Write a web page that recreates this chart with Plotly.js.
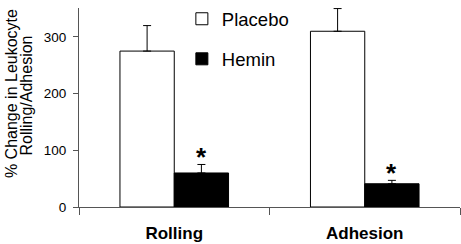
<!DOCTYPE html>
<html>
<head>
<meta charset="utf-8">
<script src="https://cdn.plot.ly/plotly-3.0.1.min.js"></script>
<style>html,body{margin:0;padding:0;background:#fff;}#chart{width:461px;height:244px;}</style>
</head>
<body>
<div id="chart"></div>
<script>
const categories = ['Rolling', 'Adhesion'];
const placebo = [275, 310];
const placeboErr = [45, 40];
const hemin = [60, 41];
const heminErr = [15, 6];
const significance = ['*', '*'];
const yTickVals = [0, 100, 200, 300];
const yTitleLines = ['% Change in Leukocyte', 'Rolling/Adhesion'];

const bargap = 0.43;
const font = '"Liberation Sans", Arial, sans-serif';

const traces = [
  {
    type: 'bar', name: 'Placebo', x: categories, y: placebo,
    marker: {color: '#ffffff', line: {color: '#000000', width: 1}},
    error_y: {type: 'data', symmetric: false, array: placeboErr, arrayminus: placebo.map(() => 0),
              color: '#000000', thickness: 1, width: 4},
    legendgroup: 'p'
  },
  {
    type: 'bar', name: 'Hemin', x: categories, y: hemin,
    marker: {color: '#000000', line: {color: '#000000', width: 1}},
    error_y: {type: 'data', symmetric: false, array: heminErr, arrayminus: hemin.map(() => 0),
              color: '#000000', thickness: 1, width: 4},
    legendgroup: 'h'
  }
];

const barOffset = (1 - bargap) / 4;
const annotations = categories.map((c, i) => ({
  xref: 'x', yref: 'y', x: i + barOffset, y: hemin[i] + heminErr[i],
  text: significance[i], showarrow: false, yanchor: 'bottom', yshift: -10,
  font: {family: font, size: 26, color: '#000', weight: 'bold'}
}));
const titleX = [-0.1785, -0.1375];
const titleY = [0.5725, 0.558];
yTitleLines.forEach((t, i) => annotations.push({
  xref: 'paper', yref: 'paper', x: titleX[i], y: titleY[i],
  text: t, textangle: -90,
  showarrow: false, xanchor: 'center', yanchor: 'middle',
  font: {family: font, size: 16, color: '#000'}
}));

const layout = {
  width: 461, height: 244,
  margin: {l: 79, r: 1, t: 0, b: 37, pad: 0},
  paper_bgcolor: '#fff', plot_bgcolor: '#fff',
  barmode: 'group', bargap: bargap, bargroupgap: 0,
  font: {family: font, color: '#000'},
  showlegend: true,
  legend: {x: 0.270, y: 1.039, xanchor: 'left', yanchor: 'top', bgcolor: 'rgba(0,0,0,0)',
           font: {family: font, size: 18.5, color: '#000'}, traceorder: 'grouped', tracegroupgap: 13},
  xaxis: {
    type: 'category', tickson: 'boundaries', ticks: 'outside', ticklen: 7, tickcolor: '#555',
    showline: true, linecolor: '#555', linewidth: 1, showgrid: false, zeroline: false,
    tickfont: {family: font, size: 17, color: '#000', weight: 'bold'}, ticklabelstandoff: 11,
    range: [-0.5, 1.5]
  },
  yaxis: {
    range: [0, 351], tickvals: yTickVals, ticks: 'outside', ticklen: 5, tickcolor: '#555',
    showline: true, linecolor: '#555', linewidth: 1, showgrid: false, zeroline: false,
    tickfont: {family: font, size: 13.5, color: '#000'}, ticklabelstandoff: 4
  },
  annotations: annotations
};

Plotly.newPlot('chart', traces, layout, {displayModeBar: false, staticPlot: true});
</script>
</body>
</html>
